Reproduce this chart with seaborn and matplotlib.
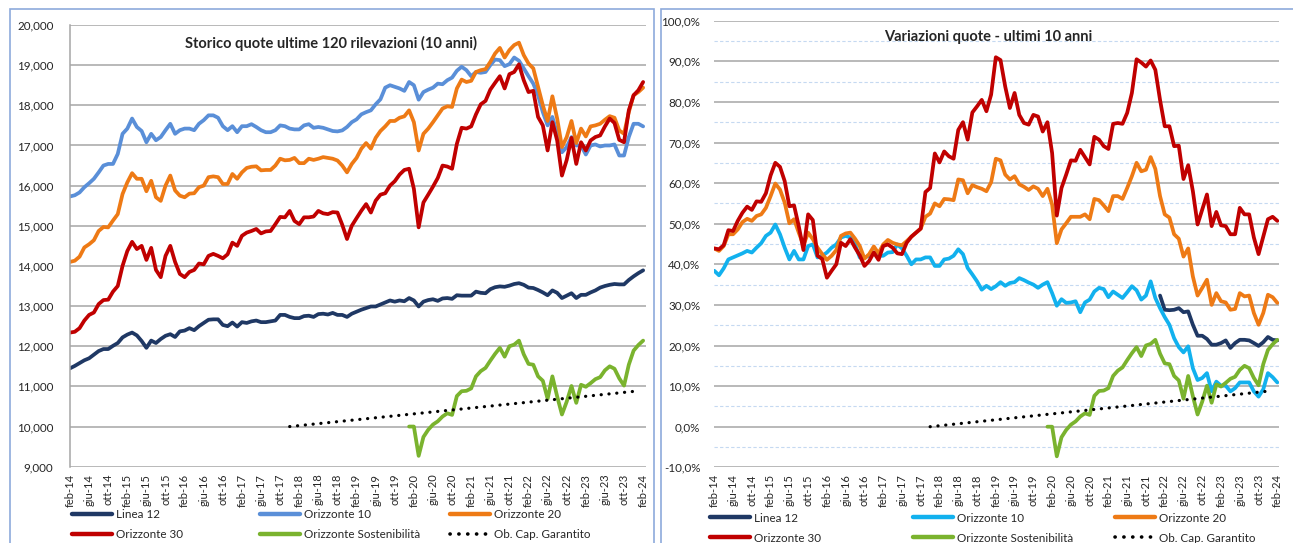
import numpy as np
import pandas as pd
import matplotlib
matplotlib.use("Agg")
import matplotlib.pyplot as plt
import seaborn as sns
from matplotlib.patches import Rectangle
from matplotlib.lines import Line2D
from matplotlib.ticker import FuncFormatter, FixedLocator

# ---------------- DATA ----------------
tick_labels = [f"{m}-{y:02d}" for y in range(14, 25) for m in ("feb", "giu", "ott")][:31]

series_names = ["Linea 12", "Orizzonte 10", "Orizzonte 20", "Orizzonte 30",
                "Orizzonte Sostenibilità", "Ob. Cap. Garantito"]

linea12 = [11450, 11510, 11580, 11650, 11700, 11790, 11880, 11930, 11930, 12010,
           12080, 12220, 12290, 12340, 12270, 12130, 11960, 12140, 12080, 12180,
           12260, 12300, 12230, 12370, 12390, 12450, 12400, 12500, 12580, 12660,
           12670, 12670, 12530, 12500, 12590, 12490, 12600, 12580, 12620, 12640,
           12600, 12600, 12620, 12640, 12780, 12780, 12730, 12700, 12700, 12750,
           12760, 12730, 12800, 12810, 12790, 12830, 12780, 12780, 12730, 12810,
           12860, 12910, 12950, 12990, 12990, 13040, 13090, 13140, 13110, 13140,
           13120, 13200, 13140, 12990, 13110, 13150, 13170, 13130, 13190, 13200,
           13180, 13270, 13260, 13260, 13260, 13360, 13330, 13320, 13420, 13470,
           13490, 13480, 13510, 13550, 13570, 13530, 13460, 13450, 13400, 13340,
           13270, 13390, 13330, 13200, 13260, 13320, 13200, 13280, 13280, 13340,
           13390, 13460, 13500, 13530, 13550, 13540, 13540, 13650, 13740, 13820, 13890]

orizz10 = [15730, 15760, 15830, 15960, 16060, 16170, 16330, 16500, 16540, 16540,
           16790, 17290, 17420, 17670, 17460, 17360, 17080, 17290, 17130, 17210,
           17380, 17540, 17290, 17380, 17420, 17420, 17380, 17540, 17630, 17750,
           17750, 17690, 17480, 17380, 17480, 17330, 17480, 17480, 17530, 17460,
           17380, 17330, 17330, 17380, 17500, 17480, 17420, 17400, 17400, 17500,
           17530, 17440, 17460, 17440, 17400, 17360, 17350, 17375, 17460, 17580,
           17650, 17775, 17830, 17875, 18025, 18150, 18440, 18500, 18460, 18420,
           18360, 18580, 18500, 18140, 18330, 18390, 18440, 18540, 18525, 18625,
           18690, 18860, 18960, 18875, 18725, 18830, 18810, 18830, 19000, 19140,
           19125, 18975, 19025, 19190, 19110, 18920, 18725, 18540, 18250, 17830,
           17500, 17710, 17290, 16830, 16960, 17210, 17000, 17000, 16775, 17000,
           17025, 16975, 17000, 17000, 17025, 16750, 16750, 17210, 17540, 17540, 17475]

orizz20 = [14100, 14130, 14230, 14460, 14540, 14640, 14870, 14970, 14960, 15130,
           15290, 15790, 16080, 16310, 16170, 16170, 15860, 16120, 15710, 15620,
           16000, 16250, 15880, 15750, 15710, 15800, 15810, 15960, 16000, 16210,
           16230, 16210, 16040, 16040, 16290, 16170, 16330, 16440, 16470, 16480,
           16380, 16390, 16390, 16500, 16670, 16630, 16640, 16690, 16560, 16560,
           16670, 16640, 16670, 16710, 16690, 16670, 16625, 16500, 16330, 16540,
           16690, 16920, 17060, 16920, 17190, 17360, 17475, 17610, 17610, 17690,
           17725, 17875, 17580, 16875, 17290, 17420, 17580, 17750, 17920, 17975,
           17960, 18420, 18640, 18580, 18610, 18830, 18875, 18900, 19080, 19290,
           19430, 19190, 19375, 19500, 19560, 19250, 19040, 18920, 18460, 18000,
           17610, 18225, 17670, 16960, 17210, 17610, 17060, 17420, 17225, 17475,
           17500, 17540, 17640, 17730, 17690, 17375, 17290, 17830, 18250, 18330, 18440]

orizz30 = [12340, 12360, 12450, 12640, 12780, 12840, 13050, 13150, 13160, 13360,
           13500, 14000, 14370, 14600, 14420, 14500, 14150, 14450, 13900, 13720,
           14250, 14500, 14100, 13800, 13720, 13850, 13900, 14060, 14040, 14250,
           14300, 14250, 14190, 14290, 14580, 14500, 14750, 14830, 14870, 14920,
           14810, 14860, 14870, 15040, 15220, 15210, 15370, 15120, 15040, 15210,
           15210, 15230, 15370, 15310, 15290, 15340, 15330, 15025, 14670, 15000,
           15190, 15375, 15540, 15330, 15625, 15775, 15810, 16000, 16110, 16275,
           16390, 16420, 15920, 14960, 15580, 15775, 15975, 16190, 16500, 16475,
           16420, 17040, 17440, 17420, 17475, 17775, 18025, 18110, 18390, 18560,
           18725, 18420, 18775, 18830, 19020, 18625, 18330, 18360, 17710, 17500,
           16875, 17580, 17125, 16250, 16640, 17190, 16540, 17080, 16875, 17125,
           17210, 17250, 17475, 17670, 17560, 17140, 17080, 17875, 18250, 18375, 18580]

# Orizzonte Sostenibilità: from month index 71 (gen-20)
sost_start = 71
sostenib = [10000, 10000, 9270, 9740, 9920, 10050, 10130, 10250, 10330, 10290,
            10760, 10880, 10890, 10950, 11250, 11380, 11460, 11640, 11810, 11960,
            11740, 12000, 12040, 12140, 11800, 11560, 11540, 11250, 11140, 10690,
            11250, 10750, 10300, 10620, 11010, 10590, 11040, 10990, 11080, 11180,
            11230, 11400, 11500, 11440, 11200, 11020, 11540, 11890, 12030, 12140]

# Ob. Cap. Garantito: from month index 46 (dic-17) to 118 (dic-23)
gar_start = 46
garantito = [10000, 10012, 10024, 10036, 10049, 10061, 10073, 10085, 10097, 10109,
             10122, 10134, 10146, 10158, 10170, 10182, 10194, 10207, 10219, 10231,
             10243, 10255, 10267, 10279, 10292, 10304, 10316, 10328, 10340, 10352,
             10365, 10377, 10389, 10401, 10413, 10425, 10437, 10450, 10462, 10474,
             10486, 10498, 10510, 10522, 10535, 10547, 10559, 10571, 10583, 10595,
             10608, 10620, 10632, 10644, 10656, 10668, 10680, 10693, 10705, 10717,
             10729, 10741, 10753, 10765, 10778, 10790, 10802, 10814, 10826, 10838,
             10851, 10863, 10875]

# Right panel: 10-year variations (%)
var_l12_start = 95
var_linea12 = [32.3, 28.8, 28.7, 28.8, 29.2, 28.2, 28.4, 25.1, 22.4, 22.4,
               21.6, 20.2, 20.2, 20.6, 21.25, 19.4, 20.6, 21.4, 21.4, 21.25,
               20.6, 19.9, 20.8, 22.1, 21.4, 21.25]

var_o10 = [38.4, 37.3, 39.0, 41.2, 41.7, 42.2, 42.7, 43.3, 42.9, 44.1,
           45.2, 47.0, 47.8, 49.8, 47.4, 44.1, 41.2, 43.3, 41.2, 41.2,
           44.5, 44.9, 41.7, 42.1, 42.9, 44.1, 44.9, 46.6, 47.0, 46.6,
           44.9, 41.7, 41.7, 42.1, 42.9, 42.1, 42.1, 42.9, 43.0, 44.9,
           43.9, 42.1, 40.0, 41.2, 41.2, 41.7, 41.7, 39.6, 39.6, 41.2,
           41.4, 42.1, 43.7, 42.5, 39.1, 37.5, 35.8, 33.75, 34.7, 33.9,
           34.6, 35.6, 34.7, 35.4, 35.6, 36.6, 36.1, 35.5, 35.0, 34.2,
           35.0, 35.6, 32.9, 29.8, 31.4, 30.5, 30.6, 30.9, 28.2, 30.6,
           31.3, 33.3, 34.2, 33.9, 31.9, 33.3, 32.5, 31.7, 33.1, 34.6,
           33.6, 31.3, 32.3, 35.8, 31.7, 29.2, 27.0, 25.1, 21.8, 19.6,
           18.3, 19.8, 14.4, 11.5, 12.0, 13.2, 8.7, 11.1, 10.1, 10.1,
           8.7, 9.5, 10.9, 10.9, 10.9, 8.7, 7.4, 9.2, 13.2, 12.2, 10.9]

var_o20 = [43.9, 43.3, 44.5, 47.4, 47.4, 48.6, 50.4, 51.2, 50.7, 51.9,
           52.3, 53.9, 56.8, 59.9, 58.4, 55.2, 50.1, 51.1, 47.8, 44.7,
           47.8, 46.2, 44.1, 42.5, 41.1, 42.1, 43.5, 47.0, 47.6, 47.8,
           46.3, 44.5, 41.4, 42.5, 44.4, 42.7, 44.9, 46.0, 45.3, 44.9,
           44.7, 45.7, 46.8, 47.8, 48.8, 51.7, 52.5, 55.0, 54.3, 56.1,
           56.0, 55.8, 60.9, 60.7, 57.5, 59.5, 59.0, 58.6, 58.0, 60.2,
           66.0, 65.6, 62.1, 60.9, 61.7, 59.7, 59.1, 58.3, 59.2, 58.6,
           56.8, 58.6, 54.7, 45.2, 48.6, 50.1, 51.7, 51.7, 51.7, 52.3,
           51.1, 56.1, 55.8, 54.5, 53.1, 56.8, 56.8, 56.1, 58.8, 61.7,
           65.0, 62.9, 63.3, 66.4, 63.5, 56.8, 52.3, 51.5, 47.4, 46.3,
           41.9, 43.9, 37.0, 32.3, 34.2, 36.2, 30.0, 32.9, 30.9, 30.6,
           28.8, 29.0, 32.9, 32.1, 32.3, 28.0, 25.1, 28.0, 32.5, 31.9, 30.5]

var_o30 = [43.9, 43.7, 44.7, 48.4, 48.2, 50.7, 52.7, 54.2, 53.4, 55.5,
           55.4, 57.5, 61.9, 65.0, 64.0, 60.5, 54.3, 54.5, 49.4, 43.5,
           52.3, 50.9, 42.1, 41.3, 36.7, 38.4, 40.0, 45.3, 44.5, 46.2,
           44.1, 42.2, 39.6, 40.8, 42.9, 41.1, 44.5, 44.9, 44.1, 42.7,
           42.5, 45.3, 46.8, 47.8, 48.8, 57.8, 58.8, 67.3, 65.1, 67.8,
           66.6, 66.0, 73.1, 75.0, 70.7, 77.4, 78.9, 80.5, 77.7, 81.8,
           91.0, 90.3, 83.8, 78.5, 82.2, 76.8, 74.8, 74.4, 76.8, 76.4,
           72.7, 75.0, 67.4, 52.0, 58.8, 62.1, 65.6, 65.5, 68.2, 66.4,
           64.6, 71.4, 70.7, 69.1, 68.4, 74.6, 74.8, 74.6, 77.3, 82.2,
           90.5, 89.7, 88.7, 90.2, 87.9, 80.5, 74.0, 74.0, 69.1, 69.2,
           61.0, 64.4, 58.0, 49.8, 53.5, 57.2, 49.4, 52.9, 49.6, 49.4,
           47.4, 47.4, 53.9, 52.3, 52.3, 46.6, 42.5, 46.8, 51.1, 51.7, 50.7]

# ---------------- STYLE ----------------
sns.set_theme(style="white")
plt.rcParams['font.family'] = ['Lato', 'DejaVu Sans']
TXT = "#262626"

col_l12 = "#1F3864"
col_o10_left = "#5A8FD8"
col_o10_right = "#12B1EE"
col_o20 = "#EE7A15"
col_o30 = "#C00000"
col_sost = "#7AB32E"
col_gar = "#000000"
LW = 2.7
LW_DOT = 2.3
DOT = (0, (0.05, 2.4))

W, H = 1293, 543
fig = plt.figure(figsize=(W / 100, H / 100), dpi=100)
fig.patch.set_facecolor("white")


def fx(px):
    return px / W


def fy(py):
    return 1 - py / H


# panel frames
for x0, x1 in ((10, 654), (661, 1300)):
    fig.add_artist(Rectangle((fx(x0), fy(560)), fx(x1) - fx(x0), fy(9) - fy(560),
                             transform=fig.transFigure, fill=False,
                             edgecolor="#8EAADB", lw=1.2))

axL = fig.add_axes([fx(70), fy(466.7), fx(646) - fx(70), fy(25) - fy(466.7)])
axR = fig.add_axes([fx(714.3), fy(467.3), fx(1278.5) - fx(714.3), fy(20.7) - fy(467.3)])

months = np.arange(121)


def draw(ax, x, y, color, ls="-"):
    df = pd.DataFrame({"m": x, "v": y})
    sns.lineplot(data=df, x="m", y="v", ax=ax, color=color,
                 lw=(LW if ls == "-" else LW_DOT), linestyle=ls,
                 estimator=None, sort=False, legend=False,
                 dash_capstyle="round", solid_capstyle="round", solid_joinstyle="round")


# LEFT
draw(axL, months, linea12, col_l12)
draw(axL, months, orizz10, col_o10_left)
draw(axL, months, orizz20, col_o20)
draw(axL, months, orizz30, col_o30)
draw(axL, months[sost_start:sost_start + len(sostenib)], sostenib, col_sost)
draw(axL, months[gar_start:gar_start + len(garantito)], garantito, col_gar, DOT)

# RIGHT
sost_pct = [(v / 10000 - 1) * 100 for v in sostenib]
gar_pct = [(v / 10000 - 1) * 100 for v in garantito]
draw(axR, months[var_l12_start:var_l12_start + len(var_linea12)], var_linea12, col_l12)
draw(axR, months, var_o10, col_o10_right)
draw(axR, months, var_o20, col_o20)
draw(axR, months, var_o30, col_o30)
draw(axR, months[sost_start:sost_start + len(sost_pct)], sost_pct, col_sost)
draw(axR, months[gar_start:gar_start + len(gar_pct)], gar_pct, col_gar, DOT)

# axes styling
xt = list(range(0, 121, 4))
for ax in (axL, axR):
    ax.set_xlabel("")
    ax.set_ylabel("")
    ax.set_facecolor("none")
    ax.set_xticks(xt)
    ax.set_xticklabels(tick_labels, rotation=90, fontsize=8, color=TXT)
    ax.tick_params(axis="x", length=0, pad=5)
    ax.tick_params(axis="y", length=0, labelsize=8.4, labelcolor=TXT)
    for s in ax.spines.values():
        s.set_visible(False)
    ax.set_axisbelow(True)

axL.set_xlim(0, 120.6)
axL.set_ylim(9000, 20000)
axL.set_yticks(range(9000, 20001, 1000))
axL.yaxis.set_major_formatter(FuncFormatter(lambda v, p: f"{int(v):,}"))
axL.tick_params(axis="y", pad=12)
axL.grid(axis="y", color="#A6A6A6", lw=1.1)
axL.grid(axis="x", visible=False)
axL.spines["left"].set_visible(True)
axL.spines["left"].set_color("#A6A6A6")
axL.spines["left"].set_linewidth(1.1)

axR.set_xlim(0, 120.25)
axR.set_ylim(-10, 100)
axR.set_yticks(range(-10, 101, 10))
axR.yaxis.set_minor_locator(FixedLocator(list(range(-5, 100, 10))))
axR.yaxis.set_major_formatter(FuncFormatter(lambda v, p: f"{v:.1f}%".replace(".", ",")))
axR.tick_params(axis="y", pad=10)
axR.tick_params(axis="y", which="minor", length=0)
axR.grid(axis="y", which="major", color="#A6A6A6", lw=1.1)
axR.grid(axis="y", which="minor", color="#C5D9F1", lw=0.8, linestyle=(0, (3, 2)))
axR.grid(axis="x", visible=False)

# titles
fig.text(fx(331), fy(43.5), "Storico quote ultime 120 rilevazioni (10 anni)",
         ha="center", va="center", fontsize=10.5, fontweight="bold", color=TXT)
fig.text(fx(988), fy(37.5), "Variazioni quote - ultimi 10 anni",
         ha="center", va="center", fontsize=10.5, fontweight="bold", color=TXT)


# legends: one entry each, placed like the original
def leg(x, y, label, color, ls="-"):
    h = Line2D([0], [0], color=color, lw=(LW + 0.5 if ls == "-" else LW_DOT + 0.3),
               linestyle=ls, dash_capstyle="round")
    l = fig.legend([h], [label], loc="center left", bbox_to_anchor=(fx(x), fy(y)),
                   frameon=False, borderpad=0, borderaxespad=0, handlelength=3.4,
                   handletextpad=0.35, fontsize=8.4, labelcolor=TXT)
    return l


left_cols = (72, 260, 450)
right_cols = (710, 913, 1115)
rowsL = (515, 535)
rowsR = (518, 538)
left_entries = [(series_names[0], col_l12, "-"), (series_names[1], col_o10_left, "-"),
                (series_names[2], col_o20, "-"), (series_names[3], col_o30, "-"),
                (series_names[4], col_sost, "-"), (series_names[5], col_gar, DOT)]
right_entries = [(series_names[0], col_l12, "-"), (series_names[1], col_o10_right, "-"),
                 (series_names[2], col_o20, "-"), (series_names[3], col_o30, "-"),
                 (series_names[4], col_sost, "-"), (series_names[5], col_gar, DOT)]
for k, (lab, c, ls) in enumerate(left_entries):
    leg(left_cols[k % 3], rowsL[k // 3], lab, c, ls)
for k, (lab, c, ls) in enumerate(right_entries):
    leg(right_cols[k % 3], rowsR[k // 3], lab, c, ls)

fig.savefig("out.png", dpi=100, facecolor="white")
